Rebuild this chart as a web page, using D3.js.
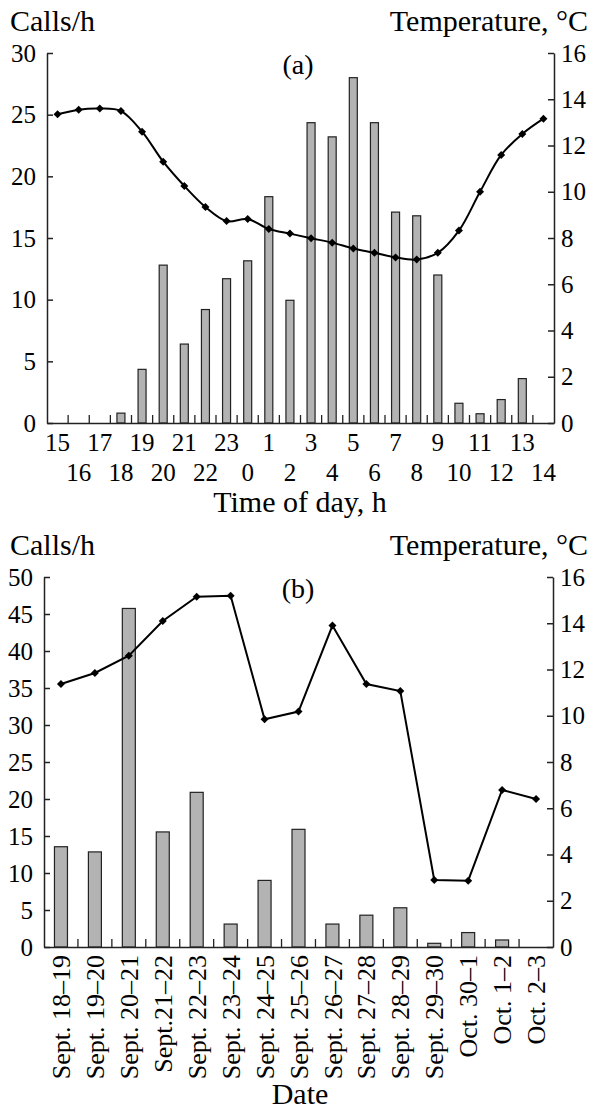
<!DOCTYPE html>
<html>
<head>
<meta charset="utf-8">
<script src="https://cdn.jsdelivr.net/npm/d3@7"></script>
<style>
  body { margin: 0; background: #fff; }
  svg text { font-family: "Liberation Serif", "DejaVu Serif", serif; fill: #000; }
</style>
</head>
<body>
<svg id="chart" width="592" height="1112"></svg>
<script>
// Panel (a): hourly calls and temperature
var hours = ["15","16","17","18","19","20","21","22","23","0","1","2",
             "3","4","5","6","7","8","9","10","11","12","13","14"];
var callsA = [0, 0, 0, 0.8, 4.35, 12.8, 6.4, 9.2, 11.7, 13.15, 18.35, 9.95,
              24.35, 23.2, 28.0, 24.35, 17.1, 16.8, 12.0, 1.6, 0.75, 1.9, 3.6, 0];
var tempA = [13.35, 13.55, 13.6, 13.49, 12.6, 11.3, 10.25, 9.34, 8.73, 8.82, 8.39, 8.19,
             7.99, 7.8, 7.55, 7.36, 7.16, 7.07, 7.36, 8.32, 10.0, 11.59, 12.5, 13.16];

// Panel (b): daily calls and temperature
var dates = ["Sept. 18\u201319","Sept. 19\u201320","Sept. 20\u201321","Sept.21\u201322",
             "Sept. 22\u201323","Sept. 23\u201324","Sept. 24\u201325","Sept. 25\u201326",
             "Sept. 26\u201327","Sept. 27\u201328","Sept. 28\u201329","Sept. 29\u201330",
             "Oct. 30\u20131","Oct. 1\u20132","Oct. 2\u20133"];
var callsB = [13.55, 12.85, 45.75, 15.55, 20.9, 3.1, 9.0, 15.9, 3.1, 4.3, 5.3, 0.5, 1.95, 0.95, 0];
var tempB = [11.37, 11.85, 12.6, 14.1, 15.15, 15.19, 9.85, 10.18, 13.9, 11.37, 11.07, 2.9, 2.87, 6.79, 6.4];

// Tick values
var callsTicksA = d3.range(0, 31, 5);
var callsTicksB = d3.range(0, 51, 5);
var tempTicks = d3.range(0, 17, 2);

var svg = d3.select("#chart");

// Draw one panel: bars on the left axis, temperature line on the right axis
function panel(cfg) {
  var g = svg.append("g");

  var x = d3.scaleBand().domain(cfg.cats).range([cfg.left, cfg.right]);
  var yL = d3.scaleLinear().domain([0, cfg.callsMax]).range([cfg.bottom, cfg.top]);
  var yR = d3.scaleLinear().domain([0, 16]).range([cfg.bottom, cfg.top]);

  // bars
  g.selectAll(".bar")
    .data(cfg.calls.map(function(v, i) { return { c: cfg.cats[i], v: v }; })
      .filter(function(d) { return d.v > 0; }))
    .enter().append("rect")
    .attr("class", "bar")
    .attr("x", function(d) { return x(d.c) + (x.bandwidth() - cfg.barW) / 2; })
    .attr("y", function(d) { return yL(d.v); })
    .attr("width", cfg.barW)
    .attr("height", function(d) { return yL(0) - yL(d.v); })
    .attr("fill", "#b3b3b3")
    .attr("stroke", "#222")
    .attr("stroke-width", 1.2);

  // left axis
  var axL = g.append("g")
    .attr("transform", "translate(" + cfg.left + ",0)")
    .call(d3.axisLeft(yL).tickValues(cfg.callsTicks).tickSizeInner(-6).tickSizeOuter(0).tickPadding(11));
  // right axis
  var axR = g.append("g")
    .attr("transform", "translate(" + cfg.right + ",0)")
    .call(d3.axisRight(yR).tickValues(tempTicks).tickSizeInner(-6).tickSizeOuter(0).tickPadding(7));
  [axL, axR].forEach(function(a) {
    a.selectAll("text").style("font-size", "25px").attr("font-family", null);
    a.selectAll("path, line").attr("stroke", "#222").attr("stroke-width", 1.5);
  });

  // bottom axis: labels on band centres, ticks on band boundaries
  var axB = g.append("g")
    .attr("transform", "translate(0," + cfg.bottom + ")")
    .call(d3.axisBottom(x).tickSize(0).tickSizeOuter(0));
  axB.select(".domain").attr("stroke", "#222").attr("stroke-width", 1.5);
  axB.selectAll("text").attr("font-family", null);
  cfg.labelStyle(axB.selectAll(".tick text"));

  axB.selectAll(".bound")
    .data(cfg.cats.slice(1))
    .enter().append("line")
    .attr("class", "bound")
    .attr("x1", function(d) { return x(d); })
    .attr("x2", function(d) { return x(d); })
    .attr("y1", 0)
    .attr("y2", -8)
    .attr("stroke", "#222")
    .attr("stroke-width", 1.3);

  // temperature line
  var line = d3.line()
    .x(function(d, i) { return x(cfg.cats[i]) + x.bandwidth() / 2; })
    .y(function(d) { return yR(d); })
    .curve(cfg.curve);

  g.append("path")
    .datum(cfg.temp)
    .attr("d", line)
    .attr("fill", "none")
    .attr("stroke", "#000")
    .attr("stroke-width", 2);

  g.selectAll(".pt")
    .data(cfg.temp)
    .enter().append("path")
    .attr("class", "pt")
    .attr("d", d3.symbol().type(d3.symbolSquare).size(32))
    .attr("transform", function(d, i) {
      return "translate(" + (x(cfg.cats[i]) + x.bandwidth() / 2) + "," + yR(d) + ") rotate(45)";
    })
    .attr("fill", "#000");

  // titles
  g.append("text").attr("x", 10).attr("y", cfg.top - 22)
    .style("font-size", "30px").text("Calls/h");
  g.append("text").attr("x", 588).attr("y", cfg.top - 22)
    .style("font-size", "30px").style("text-anchor", "end").text("Temperature, \u00b0C");
  g.append("text").attr("x", 298).attr("y", cfg.top + 21)
    .style("font-size", "28px").style("text-anchor", "middle").text(cfg.tag);
  g.append("text").attr("x", 300).attr("y", cfg.titleY)
    .style("font-size", "30px").style("text-anchor", "middle").text(cfg.title);
}

panel({
  cats: hours, calls: callsA, temp: tempA, callsMax: 30, callsTicks: callsTicksA,
  left: 47, right: 554, top: 53, bottom: 423, barW: 8,
  curve: d3.curveCatmullRom.alpha(0.5), tag: "(a)",
  title: "Time of day, h", titleY: 512,
  labelStyle: function(t) {
    // alternate the hour labels between two rows
    t.style("font-size", "25px")
      .attr("dy", null).attr("y", function(d, i) { return i % 2 ? 58 : 28; });
  }
});

panel({
  cats: dates, calls: callsB, temp: tempB, callsMax: 50, callsTicks: callsTicksB,
  left: 44, right: 553, top: 577, bottom: 947, barW: 13,
  curve: d3.curveLinear, tag: "(b)",
  title: "Date", titleY: 1104,
  labelStyle: function(t) {
    t.style("font-size", "26px")
      .attr("transform", "rotate(-90)")
      .attr("x", -8).attr("y", 0).attr("dy", "0.35em")
      .style("text-anchor", "end");
  }
});
</script>
</body>
</html>
